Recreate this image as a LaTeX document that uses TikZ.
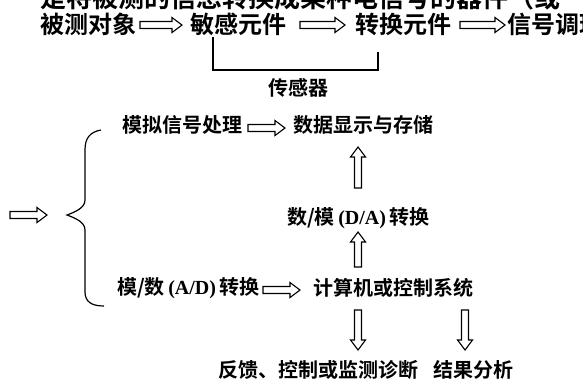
\documentclass[tikz,border=0pt]{standalone}
\usepackage{fontspec}
\setmainfont{Noto Sans CJK SC}[BoldFont={* Bold}]
\newfontfamily\lat{Liberation Serif}[BoldFont={* Bold}]
\tikzset{
  lbl/.style={inner sep=0pt, anchor=west, font=\fontsize{20}{20}\selectfont\bfseries},
  toplbl/.style={inner sep=0pt, anchor=west, font=\fontsize{24}{24}\selectfont\bfseries},
  harrow/.pic={\draw[line width=1.1pt, line join=miter]
     (0,-3.5) -- (#1-10,-3.5) -- (#1-10,-7.5) -- (#1,0) -- (#1-10,7.5) -- (#1-10,3.5) -- (0,3.5) -- cycle;},
  brk/.style={line width=1.2pt}
}
\begin{document}
\begin{tikzpicture}[x=1pt,y=-1pt]
\useasboundingbox (0,0) rectangle (583,386);
\clip (0,0) rectangle (583,386);
\fill[white] (0,0) rectangle (583,386);
% cut-off top line
\node[inner sep=0pt, anchor=base west, font=\fontsize{26}{26}\selectfont\bfseries] (cut) at (40,7) {是将被测的信息转换成某种电信号的器件（或};
% top row
\node[toplbl] (obj) at (40,24) {被测对象};
\node[toplbl] (sens) at (190,24) {敏感元件};
\node[toplbl] (conv) at (355,24) {转换元件};
\node[toplbl] (sig) at (507,24) {信号调理};
\pic at (140,25) {harrow=42};
\pic at (300,25) {harrow=45};
\pic at (460,25) {harrow=45};
% sensor bracket
\coordinate (bl) at (213,37);
\coordinate (br) at (378,52);
\draw[brk] (bl) -- (213,70) -- (378,70) -- (br);
\node[lbl, anchor=center] (sensor) at (298,88) {传感器};
% lower part
\node[lbl] (ana) at (122,125) {模拟信号处理};
\node[lbl] (disp) at (293,125) {数据显示与存储};
\node[lbl] (da) at (287,218) {数/模\,{\lat(D/A)}\,转换};
\node[lbl] (ad) at (117,288) {模/数\,{\lat(A/D)}\,转换};
\node[lbl] (comp) at (313,288) {计算机或控制系统};
\node[lbl] (fb) at (218,370) {反馈、控制或监测诊断};
\node[lbl] (res) at (433,370) {结果分析};
\pic at (248,128) {harrow=37};
\pic at (263,290) {harrow=37};
\pic at (10,215) {harrow=37};
\pic[rotate=90] at (358,188) {harrow=41};
\pic[rotate=90] at (358,267) {harrow=35};
\pic[rotate=-90] at (358,310) {harrow=40};
\pic[rotate=-90] at (465,310) {harrow=40};
% brace
\coordinate (btop) at (101,130);
\coordinate (bbot) at (104,306);
\coordinate (btip) at (67,215);
\draw[brk] (btop) .. controls (90,132) and (85,138) .. (85,150) -- (85,200)
  .. controls (85,208) and (75,212) .. (btip)
  .. controls (75,218) and (85,222) .. (85,230) -- (85,292)
  .. controls (85,302) and (92,306) .. (bbot);
\end{tikzpicture}
\end{document}
